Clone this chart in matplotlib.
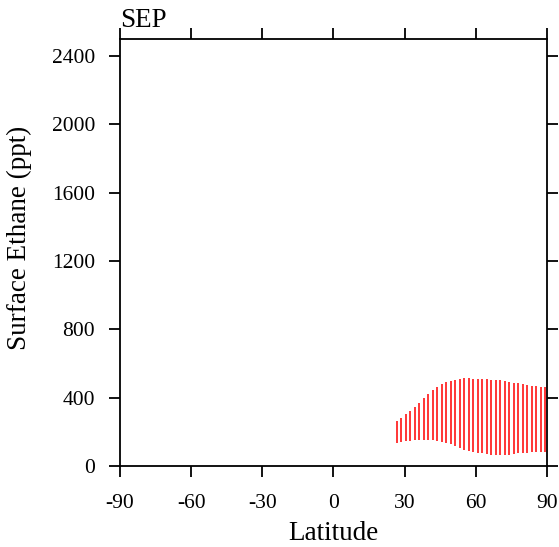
import matplotlib
matplotlib.use("Agg")
import matplotlib.pyplot as plt

# latitude of each bar (deg N) and the min / max surface ethane (ppt)
lats = [26.6, 28.5, 30.4, 32.3, 34.2, 36.1, 38.0, 39.9, 41.8, 43.7, 45.6, 47.5,
        49.4, 51.3, 53.2, 55.1, 57.0, 58.9, 60.8, 62.7, 64.6, 66.5, 68.4, 70.3,
        72.2, 74.1, 76.0, 77.9, 79.8, 81.7, 83.6, 85.5, 87.4, 89.3]
eth_min = [137, 142, 146, 148, 152, 154, 154, 154, 152, 148, 142, 135,
           127, 117, 105, 96, 88, 82, 78, 74, 70, 66, 62, 62,
           62, 66, 70, 74, 76, 78, 80, 80, 82, 84]
eth_max = [263, 281, 302, 324, 345, 371, 396, 422, 443, 461, 478, 490,
           498, 504, 509, 513, 513, 511, 509, 509, 507, 505, 504, 504,
           498, 494, 488, 484, 478, 474, 470, 466, 464, 463]

month = "SEP"
xticks = [-90, -60, -30, 0, 30, 60, 90]
yticks = [0, 400, 800, 1200, 1600, 2000, 2400]

plt.rcParams['font.family'] = ['Liberation Serif', 'DejaVu Serif']

fig = plt.figure(figsize=(5.59, 5.47), dpi=100)
ax = fig.add_axes([0.2147, 0.1481, 0.7638, 0.7806])

ax.vlines(lats, eth_min, eth_max, colors="red", linewidth=1.1)

ax.set_xlim(-90, 90)
ax.set_ylim(0, 2500)
ax.set_xticks(xticks)
ax.set_xticklabels([str(t) for t in xticks])
ax.set_yticks(yticks)
ax.tick_params(direction="out", length=8, width=1.3, labelsize=15.5,
               top=True, right=True)
ax.tick_params(axis="y", pad=10)
ax.tick_params(axis="x", pad=12)
for sp in ax.spines.values():
    sp.set_linewidth(1.3)

ax.set_xlabel("Latitude", fontsize=19.5)
ax.set_ylabel("Surface Ethane (ppt)", fontsize=19.5)
ax.xaxis.set_label_coords(0.5, -0.13)
ax.yaxis.set_label_coords(-0.205, 0.535)
ax.set_title(month, loc="left", fontsize=19.5, pad=9)

fig.savefig("out.png", dpi=100)
